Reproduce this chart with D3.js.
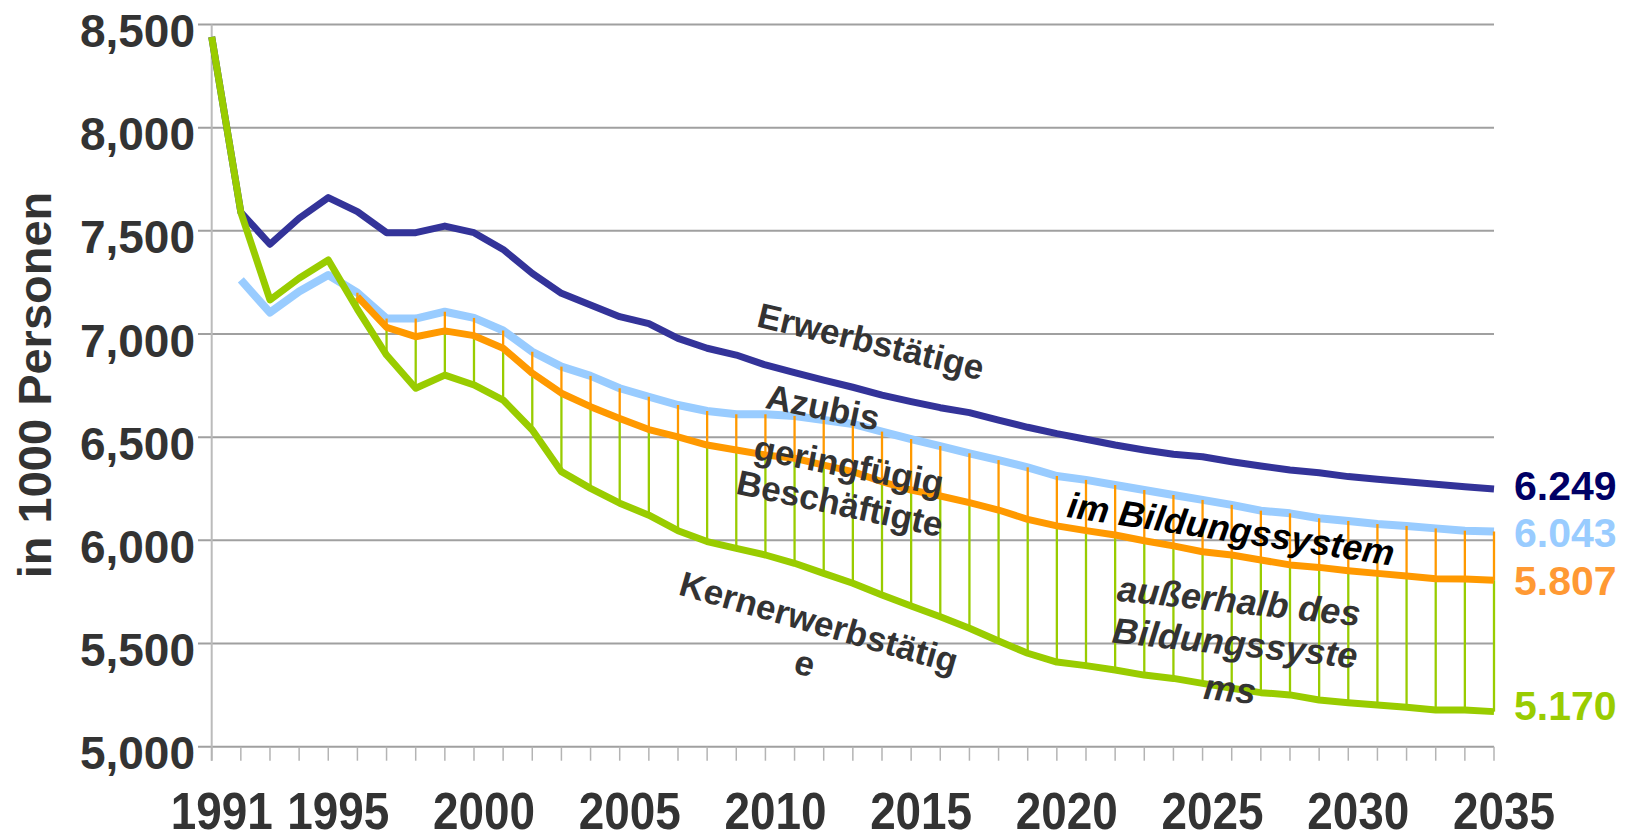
<!DOCTYPE html>
<html>
<head>
<meta charset="utf-8">
<script src="https://cdn.jsdelivr.net/npm/d3@7"></script>
<style>
  html, body { margin: 0; padding: 0; background: #fff; }
  svg { display: block; font-family: "Liberation Sans", Arial, sans-serif; }
</style>
</head>
<body>
<div id="chart"></div>
<script>
// chart size
const width = 1625;
const height = 840;

// data (in 1000 Personen)
const years = [1991, 1992, 1993, 1994, 1995, 1996, 1997, 1998, 1999, 2000,
  2001, 2002, 2003, 2004, 2005, 2006, 2007, 2008, 2009, 2010,
  2011, 2012, 2013, 2014, 2015, 2016, 2017, 2018, 2019, 2020,
  2021, 2022, 2023, 2024, 2025, 2026, 2027, 2028, 2029, 2030,
  2031, 2032, 2033, 2034, 2035];

const erwerbstaetige = [8440, 7590, 7435, 7561, 7661, 7593, 7491, 7491, 7523, 7491,
  7410, 7294, 7197, 7141, 7084, 7050, 6979, 6931, 6898, 6850,
  6813, 6777, 6742, 6704, 6672, 6643, 6619, 6583, 6548, 6517,
  6490, 6462, 6438, 6417, 6405, 6381, 6360, 6341, 6328, 6309,
  6296, 6284, 6272, 6260, 6249];

// ohne Azubis
const ohneAzubis = [null, 7262, 7104, 7206, 7286, 7200, 7075, 7075, 7108, 7078,
  7017, 6914, 6842, 6797, 6737, 6696, 6656, 6627, 6611, 6611,
  6603, 6583, 6564, 6527, 6491, 6457, 6422, 6389, 6354, 6312,
  6293, 6268, 6244, 6220, 6196, 6172, 6144, 6131, 6107, 6094,
  6079, 6070, 6058, 6047, 6043];

// ohne geringfügig Beschäftigte
const ohneGeringfuegig = [null, null, null, null, null, 7181, 7032, 6987, 7015, 6992,
  6931, 6810, 6713, 6648, 6591, 6537, 6502, 6462, 6438, 6414,
  6398, 6365, 6333, 6284, 6244, 6215, 6183, 6147, 6102, 6070,
  6047, 6026, 5998, 5973, 5945, 5929, 5905, 5881, 5869, 5853,
  5840, 5827, 5814, 5813, 5807];

const kernerwerbstaetige = [8440, 7590, 7165, 7270, 7359, 7120, 6898, 6737, 6801, 6753,
  6680, 6535, 6333, 6252, 6180, 6122, 6047, 5994, 5961, 5929,
  5889, 5840, 5792, 5735, 5682, 5630, 5574, 5512, 5453, 5410,
  5393, 5372, 5347, 5331, 5307, 5283, 5262, 5251, 5226, 5213,
  5202, 5191, 5178, 5178, 5170];

const yTicks = [5000, 5500, 6000, 6500, 7000, 7500, 8000, 8500];
const xLabelYears = [1991, 1995, 2000, 2005, 2010, 2015, 2020, 2025, 2030, 2035];

const endLabels = ["6.249", "6.043", "5.807", "5.170"];

// colours
const cBlue = "#333399";
const cLight = "#99ccff";
const cOrange = "#ff9900";
const cGreen = "#99cc00";
const cText = "#333333";

const svg = d3.select("#chart")
  .append("svg")
  .attr("width", width)
  .attr("height", height);

// scales
const x = d3.scaleLinear().domain([1991, 2035]).range([211.7, 1494]);
const y = d3.scaleLinear().domain([5000, 8500]).range([746.7, 24.5]);

// gridlines
svg.append("g")
  .selectAll("line")
  .data(yTicks)
  .enter()
  .append("line")
  .attr("x1", 198)
  .attr("x2", x(2035))
  .attr("y1", d => y(d))
  .attr("y2", d => y(d))
  .attr("stroke", "#a0a0a0")
  .attr("stroke-width", 2);

// y axis line
svg.append("line")
  .attr("x1", x(1991)).attr("x2", x(1991))
  .attr("y1", y(8500)).attr("y2", y(5000) + 14)
  .attr("stroke", "#bbbbbb")
  .attr("stroke-width", 2);

// x ticks (every year)
svg.append("g")
  .selectAll("line")
  .data(years)
  .enter()
  .append("line")
  .attr("x1", d => x(d))
  .attr("x2", d => x(d))
  .attr("y1", y(5000))
  .attr("y2", y(5000) + 14)
  .attr("stroke", "#b4b4b4")
  .attr("stroke-width", 1.5);

// y tick labels
svg.append("g")
  .selectAll("text")
  .data(yTicks)
  .enter()
  .append("text")
  .attr("x", 195)
  .attr("y", d => y(d) + 22.5)
  .attr("text-anchor", "end")
  .attr("font-size", 46)
  .attr("font-weight", "bold")
  .attr("fill", cText)
  .text(d3.format(","));

// x labels
svg.append("g")
  .selectAll("text")
  .data(xLabelYears)
  .enter()
  .append("text")
  .attr("x", d => x(d) + 10)
  .attr("y", 829)
  .attr("text-anchor", "middle")
  .attr("font-size", 51)
  .attr("font-weight", "bold")
  .attr("fill", cText)
  .attr("textLength", 102)
  .attr("lengthAdjust", "spacingAndGlyphs")
  .text(d => d);

// y axis title
svg.append("text")
  .attr("transform", "translate(50.5,385) rotate(-90)")
  .attr("text-anchor", "middle")
  .attr("font-size", 47)
  .attr("font-weight", "bold")
  .attr("fill", cText)
  .text("in 1000 Personen");

// line generator
const line = d3.line()
  .defined(d => d[1] != null)
  .x(d => x(d[0]))
  .y(d => y(d[1]));

const pairs = arr => years.map((yr, i) => [yr, arr[i]]);

// drop lines between series
const dropData = (top, bottom) => years
  .map((yr, i) => ({ yr, top: top[i], bottom: bottom[i] }))
  .filter(d => d.top != null && d.bottom != null);

function drawLine(arr, color, w) {
  svg.append("path")
    .datum(pairs(arr))
    .attr("d", line)
    .attr("fill", "none")
    .attr("stroke", color)
    .attr("stroke-width", w)
    .attr("stroke-linejoin", "round");
}

function drawDrops(top, bottom, color) {
  svg.append("g")
    .selectAll("line")
    .data(dropData(top, bottom))
    .enter()
    .append("line")
    .attr("x1", d => x(d.yr))
    .attr("x2", d => x(d.yr))
    .attr("y1", d => y(d.top))
    .attr("y2", d => y(d.bottom))
    .attr("stroke", color)
    .attr("stroke-width", 2.3);
}

drawLine(erwerbstaetige, cBlue, 7);
drawLine(ohneAzubis, cLight, 8);
drawDrops(ohneAzubis, ohneGeringfuegig, cOrange);
drawDrops(ohneGeringfuegig, kernerwerbstaetige, cGreen);
drawLine(ohneGeringfuegig, cOrange, 7);
drawLine(kernerwerbstaetige, cGreen, 7);

// end value labels
const endColors = ["#000066", "#99ccff", "#ff9933", "#99cc00"];
const endBaselines = [500, 547, 595, 720];
svg.append("g")
  .selectAll("text")
  .data(endLabels)
  .enter()
  .append("text")
  .attr("x", 1514)
  .attr("y", (d, i) => endBaselines[i])
  .attr("font-size", 41)
  .attr("font-weight", "bold")
  .attr("fill", (d, i) => endColors[i])
  .text(d => d);

// annotations inside the chart
const notes = [
  { t: "Erwerbstätige", cx: 871, cy: 341, a: 13.5, c: cText, it: false, fs: 35 },
  { t: "Azubis", cx: 823, cy: 407, a: 11.5, c: cText, it: false, fs: 35 },
  { t: "geringfügig", cx: 849, cy: 465, a: 11, c: cText, it: false, fs: 35 },
  { t: "Beschäftigte", cx: 840, cy: 503, a: 12, c: cText, it: false, fs: 35 },
  { t: "Kernerwerbstätig", cx: 819, cy: 622, a: 16, c: cText, it: false, fs: 35 },
  { t: "e", cx: 805, cy: 663, a: 16, c: cText, it: false, fs: 35 },
  { t: "im Bildungssystem", cx: 1231, cy: 529, a: 8.5, c: "#000000", it: true, fs: 36 },
  { t: "außerhalb des", cx: 1239, cy: 601, a: 6, c: cText, it: true, fs: 36 },
  { t: "Bildungssyste", cx: 1235, cy: 643, a: 6, c: cText, it: true, fs: 36 },
  { t: "ms", cx: 1230, cy: 689, a: 6, c: cText, it: true, fs: 36 }
];

svg.append("g")
  .selectAll("text")
  .data(notes)
  .enter()
  .append("text")
  .attr("transform", d => `translate(${d.cx},${d.cy}) rotate(${d.a})`)
  .attr("text-anchor", "middle")
  .attr("dominant-baseline", "central")
  .attr("font-size", d => d.fs)
  .attr("font-weight", "bold")
  .attr("font-style", d => d.it ? "italic" : "normal")
  .attr("fill", d => d.c)
  .text(d => d.t);
</script>
</body>
</html>
